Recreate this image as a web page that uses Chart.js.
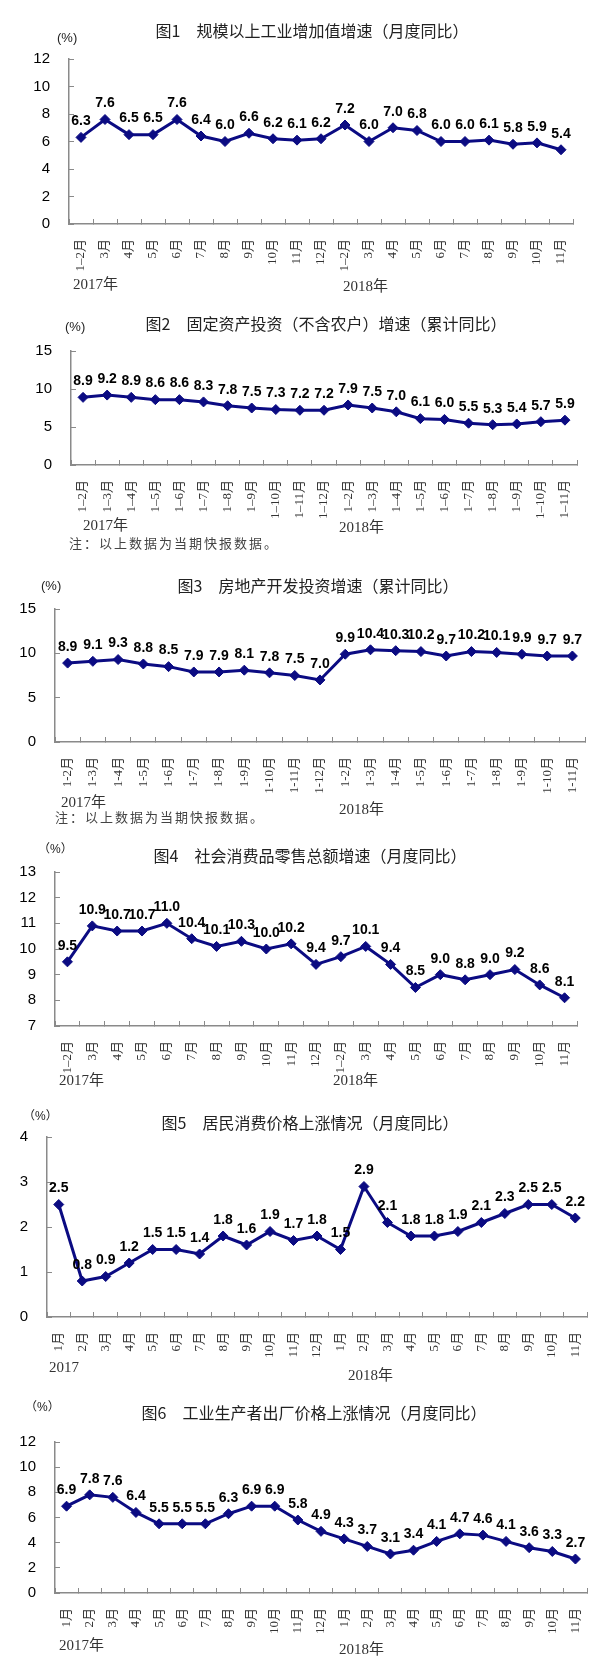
<!DOCTYPE html>
<html lang="zh-CN">
<head>
<meta charset="utf-8">
<title>主要经济指标增速</title>
<script src="https://cdn.jsdelivr.net/npm/chart.js@4.4.1/dist/chart.umd.min.js"></script>
<style>
  html, body { margin: 0; padding: 0; background: #fff; }
  #page { position: relative; width: 615px; height: 1676px; overflow: hidden; }
  canvas { position: absolute; left: 0; }
  .t { position: absolute; white-space: nowrap; font-family: "Noto Sans CJK SC", sans-serif; color: #222; transform: translateY(-50%); }
  .title { font-size: 16px; transform: translate(-50%, -50%); }
  .unit { font-size: 13px; font-family: "Liberation Sans", "Noto Sans CJK SC", sans-serif; }
  .unit.fw { font-size: 12px; }
  .year { font-size: 15px; font-family: "Liberation Serif", "Noto Sans CJK SC", serif; color: #333; }
  .note { font-size: 13px; letter-spacing: 2px; color: #444; }
</style>
</head>
<body>
<div id="page">
  <canvas id="c1"></canvas>
  <canvas id="c2"></canvas>
  <canvas id="c3"></canvas>
  <canvas id="c4"></canvas>
  <canvas id="c5"></canvas>
  <canvas id="c6"></canvas>

  <div class="t title" style="left:312px; top:30px;">图1　规模以上工业增加值增速（月度同比）</div>
  <div class="t unit" style="left:57px; top:37px;">(%)</div>
  <div class="t year" style="left:73px; top:282px;">2017年</div>
  <div class="t year" style="left:343px; top:284px;">2018年</div>

  <div class="t title" style="left:326px; top:323px;">图2　固定资产投资（不含农户）增速（累计同比）</div>
  <div class="t unit" style="left:65px; top:326px;">(%)</div>
  <div class="t year" style="left:83px; top:523px;">2017年</div>
  <div class="t year" style="left:339px; top:525px;">2018年</div>
  <div class="t note" style="left:69px; top:542px;">注：以上数据为当期快报数据。</div>

  <div class="t title" style="left:318px; top:585px;">图3　房地产开发投资增速（累计同比）</div>
  <div class="t unit" style="left:41px; top:585px;">(%)</div>
  <div class="t year" style="left:61px; top:800px;">2017年</div>
  <div class="t year" style="left:339px; top:807px;">2018年</div>
  <div class="t note" style="left:55px; top:816px;">注：以上数据为当期快报数据。</div>

  <div class="t title" style="left:310px; top:855px;">图4　社会消费品零售总额增速（月度同比）</div>
  <div class="t unit fw" style="left:38px; top:847px;">（%）</div>
  <div class="t year" style="left:59px; top:1078px;">2017年</div>
  <div class="t year" style="left:333px; top:1078px;">2018年</div>

  <div class="t title" style="left:310px; top:1122px;">图5　居民消费价格上涨情况（月度同比）</div>
  <div class="t unit fw" style="left:23px; top:1114px;">（%）</div>
  <div class="t year" style="left:49px; top:1367px;">2017</div>
  <div class="t year" style="left:348px; top:1373px;">2018年</div>

  <div class="t title" style="left:314px; top:1412px;">图6　工业生产者出厂价格上涨情况（月度同比）</div>
  <div class="t unit fw" style="left:25px; top:1405px;">（%）</div>
  <div class="t year" style="left:59px; top:1643px;">2017年</div>
  <div class="t year" style="left:339px; top:1647px;">2018年</div>
</div>

<script>
// 横轴标签
const monthsYoY = ['1–2月', '3月', '4月', '5月', '6月', '7月', '8月', '9月', '10月', '11月', '12月',
                   '1–2月', '3月', '4月', '5月', '6月', '7月', '8月', '9月', '10月', '11月'];
const monthsCumDash = ['1–2月', '1–3月', '1–4月', '1–5月', '1–6月', '1–7月', '1–8月', '1–9月', '1–10月', '1–11月', '1–12月',
                       '1–2月', '1–3月', '1–4月', '1–5月', '1–6月', '1–7月', '1–8月', '1–9月', '1–10月', '1–11月'];
const monthsCumHyphen = ['1-2月', '1-3月', '1-4月', '1-5月', '1-6月', '1-7月', '1-8月', '1-9月', '1-10月', '1-11月', '1-12月',
                         '1-2月', '1-3月', '1-4月', '1-5月', '1-6月', '1-7月', '1-8月', '1-9月', '1-10月', '1-11月'];
const monthsSingle = ['1月', '2月', '3月', '4月', '5月', '6月', '7月', '8月', '9月', '10月', '11月', '12月',
                      '1月', '2月', '3月', '4月', '5月', '6月', '7月', '8月', '9月', '10月', '11月'];

// 数据（%）
const industryGrowth = [6.3, 7.6, 6.5, 6.5, 7.6, 6.4, 6.0, 6.6, 6.2, 6.1, 6.2, 7.2, 6.0, 7.0, 6.8, 6.0, 6.0, 6.1, 5.8, 5.9, 5.4];
const fixedInvest = [8.9, 9.2, 8.9, 8.6, 8.6, 8.3, 7.8, 7.5, 7.3, 7.2, 7.2, 7.9, 7.5, 7.0, 6.1, 6.0, 5.5, 5.3, 5.4, 5.7, 5.9];
const realEstate = [8.9, 9.1, 9.3, 8.8, 8.5, 7.9, 7.9, 8.1, 7.8, 7.5, 7.0, 9.9, 10.4, 10.3, 10.2, 9.7, 10.2, 10.1, 9.9, 9.7, 9.7];
const retailSales = [9.5, 10.9, 10.7, 10.7, 11.0, 10.4, 10.1, 10.3, 10.0, 10.2, 9.4, 9.7, 10.1, 9.4, 8.5, 9.0, 8.8, 9.0, 9.2, 8.6, 8.1];
const cpi = [2.5, 0.8, 0.9, 1.2, 1.5, 1.5, 1.4, 1.8, 1.6, 1.9, 1.7, 1.8, 1.5, 2.9, 2.1, 1.8, 1.8, 1.9, 2.1, 2.3, 2.5, 2.5, 2.2];
const ppi = [6.9, 7.8, 7.6, 6.4, 5.5, 5.5, 5.5, 6.3, 6.9, 6.9, 5.8, 4.9, 4.3, 3.7, 3.1, 3.4, 4.1, 4.7, 4.6, 4.1, 3.6, 3.3, 2.7];

// 纵轴范围 [min, max, step]
const yRange1 = [0, 12, 2];
const yRange2 = [0, 15, 5];
const yRange3 = [0, 15, 5];
const yRange4 = [7, 13, 1];
const yRange5 = [0, 4, 1];
const yRange6 = [0, 12, 2];

const NAVY = '#0b0b82';
const AXIS = '#8a8a8a';

// 数据标签
const valueLabels = {
  id: 'valueLabels',
  afterDatasetsDraw(chart) {
    const ctx = chart.ctx;
    const meta = chart.getDatasetMeta(0);
    const vals = chart.data.datasets[0].data;
    ctx.save();
    ctx.font = 'bold 14px "Liberation Sans", Arial, sans-serif';
    ctx.fillStyle = '#000';
    ctx.textAlign = 'center';
    ctx.textBaseline = 'middle';
    meta.data.forEach((pt, i) => {
      ctx.fillText(vals[i].toFixed(1), pt.x, pt.y - 16);
    });
    ctx.restore();
  }
};

function makeChart(id, labels, values, yr, box) {
  const topPad = 24, xAxisH = 64, yAxisW = 40;
  const canvas = document.getElementById(id);
  canvas.width = 615;
  canvas.height = (box.B - box.T) + topPad + xAxisH + 2;
  canvas.style.top = (box.T - topPad) + 'px';

  return new Chart(canvas, {
    type: 'line',
    data: {
      labels: labels,
      datasets: [{
        data: values,
        borderColor: NAVY,
        backgroundColor: NAVY,
        borderWidth: 3,
        pointStyle: 'rectRot',
        pointRadius: 5,
        pointBorderWidth: 1,
        tension: 0,
        clip: false
      }]
    },
    options: {
      responsive: false,
      animation: false,
      layout: { padding: { left: box.L - yAxisW, right: 615 - box.R, top: topPad, bottom: 2 } },
      plugins: { legend: { display: false }, tooltip: { enabled: false } },
      scales: {
        x: {
          offset: true,
          grid: { offset: true, drawOnChartArea: false, tickLength: -5, color: AXIS, lineWidth: 1 },
          border: { color: AXIS, width: 1.5 },
          ticks: {
            autoSkip: false, minRotation: 90, maxRotation: 90, padding: 20,
            color: '#333',
            font: { family: '"Liberation Serif", "Noto Sans CJK SC", serif', size: 13 }
          },
          afterFit(s) { s.height = xAxisH; }
        },
        y: {
          min: yr[0], max: yr[1],
          grid: { drawOnChartArea: false, tickLength: -5, color: AXIS, lineWidth: 1 },
          border: { color: AXIS, width: 1.5 },
          ticks: {
            stepSize: yr[2], padding: 24, color: '#000',
            font: { family: '"Liberation Sans", Arial, sans-serif', size: 15 }
          },
          afterFit(s) { s.width = yAxisW; }
        }
      }
    },
    plugins: [valueLabels]
  });
}

makeChart('c1', monthsYoY, industryGrowth, yRange1, { L: 69, R: 573, T: 50, B: 224 });
makeChart('c2', monthsCumDash, fixedInvest, yRange2, { L: 71, R: 577, T: 342, B: 465 });
makeChart('c3', monthsCumHyphen, realEstate, yRange3, { L: 55, R: 585, T: 600, B: 742 });
makeChart('c4', monthsYoY, retailSales, yRange4, { L: 55, R: 577, T: 863, B: 1026 });
makeChart('c5', monthsSingle, cpi, yRange5, { L: 47, R: 587, T: 1128, B: 1317 });
makeChart('c6', monthsSingle, ppi, yRange6, { L: 55, R: 587, T: 1433, B: 1593 });
</script>
</body>
</html>
